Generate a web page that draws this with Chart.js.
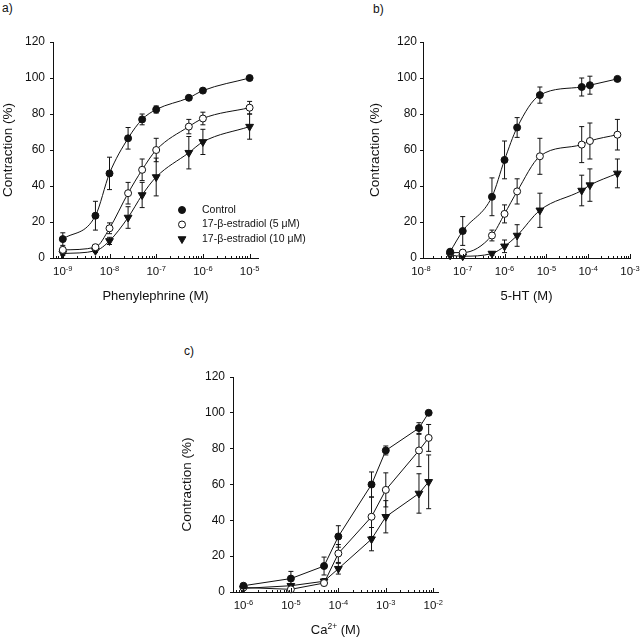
<!DOCTYPE html>
<html>
<head>
<meta charset="utf-8">
<title>Contraction curves</title>
<script src="https://cdn.jsdelivr.net/npm/chart.js@4.4.1/dist/chart.umd.min.js"></script>
<style>
  body { margin: 0; background: #fff; }
  #page { position: relative; width: 640px; height: 637px; font-family: 'Liberation Sans', Arial, sans-serif; }
  canvas { position: absolute; }
  .tag { position: absolute; font-size: 12px; color: #111; }
</style>
</head>
<body>
<div id="page">
  <div class="tag" style="left:2px;top:1px">a)</div>
  <div class="tag" style="left:373px;top:2px">b)</div>
  <div class="tag" style="left:184px;top:344px">c)</div>
  <canvas id="chart-a" width="320" height="310" style="left:0;top:0"></canvas>
  <canvas id="chart-b" width="320" height="310" style="left:320px;top:0"></canvas>
  <canvas id="chart-c" width="320" height="327" style="left:160px;top:310px"></canvas>
</div>
<script>
/*global Chart */
// a) phenylephrine
const phenConc = [1e-9, 5e-9, 1e-8, 2.5e-8, 5e-8, 1e-7, 5e-7, 1e-6, 1e-5]
const phenControl = [10.5, 23.5, 47, 66.5, 77, 82.5, 89, 93, 100]
const phenControlErr = [3.5, 8, 9, 6, 3, 2, 1, 1, 0]
const phenE5 = [4.5, 6, 16.5, 36, 49, 60, 73, 77.5, 83.5]
const phenE5Err = [1.5, 1.5, 3, 6, 6, 6.5, 4, 3.5, 3.5]
const phenE10 = [2.5, 4, 9.5, 22.5, 35, 45, 58.5, 64.5, 73]
const phenE10Err = [1, 1, 2, 6, 7, 10.5, 9, 7, 7]

// b) 5-HT
const htConc = [5e-8, 1e-7, 5e-7, 1e-6, 2e-6, 7e-6, 7e-5, 1.1e-4, 5e-4]
const htControl = [3.5, 15, 34, 54.5, 72.5, 90.5, 95, 96, 99.5]
const htControlErr = [1, 8, 10.5, 10.5, 5.5, 4.5, 5, 5, 0]
const htE5 = [3, 3, 12.5, 24.5, 37, 56.5, 63, 65, 68.5]
const htE5Err = [1, 1.5, 3, 5, 7, 10, 10, 10, 8.5]
const htE10 = [1.5, 1, 2.5, 6.5, 12.5, 26.5, 37.5, 40.5, 47]
const htE10Err = [0.5, 0.5, 1, 3.5, 6, 9.5, 8.5, 9, 8]

// c) Ca2+
const caConc = [1e-6, 1e-5, 5e-5, 1e-4, 5e-4, 1e-3, 5e-3, 8e-3]
const caControl = [3.5, 7.5, 14.5, 31, 60, 79, 91.5, 100]
const caControlErr = [1, 4, 5, 6, 7, 2.5, 3, 0]
const caE5 = [2.5, 1.5, 5, 21.5, 42, 57, 79, 86]
const caE5Err = [0.5, 0.5, 1.5, 5, 11, 9.5, 9, 7.5]
const caE10 = [2, 3.5, 6, 13, 29.5, 42, 55, 61.5]
const caE10Err = [0.5, 0.5, 1.5, 3, 6.5, 9, 11, 15]

const seriesLabels = ['Control', '17-β-estradiol (5 μM)', '17-β-estradiol (10 μM)']
const yTicks = [0, 20, 40, 60, 80, 100, 120]

const ink = '#111'
const family = "'Liberation Sans', Arial, sans-serif"

Chart.defaults.font.family = family
Chart.defaults.font.size = 12
Chart.defaults.color = ink

const markerStyles = [
  { pointStyle: 'circle', pointRadius: 3.5, pointBackgroundColor: ink, pointBorderColor: ink },
  { pointStyle: 'circle', pointRadius: 3.5, pointBackgroundColor: '#fff', pointBorderColor: ink },
  { pointStyle: 'triangle', pointRadius: 4.5, pointRotation: 180, pointBackgroundColor: ink, pointBorderColor: ink },
]

const series = (index, conc, values, errors, smooth) => ({
  label: seriesLabels[index],
  data: conc.map((x, i) => ({ x, y: values[i] })),
  errors,
  showLine: true,
  clip: false,
  borderColor: ink,
  borderWidth: 1,
  pointBorderWidth: 1,
  cubicInterpolationMode: smooth ? 'monotone' : 'default',
  tension: 0,
  ...markerStyles[index]
})

// normal / superscript pieces centred on cx, e.g. "10" + "-9"
const drawParts = (ctx, parts, cx, baseline, size, supSize, rise) => {
  const fonts = parts.map(([, sup]) => `${sup ? supSize : size}px ${family}`)
  const widths = parts.map(([text], i) => { ctx.font = fonts[i]; return ctx.measureText(text).width })
  let x = cx - widths.reduce((a, b) => a + b, 0) / 2
  parts.forEach(([text, sup], i) => {
    ctx.font = fonts[i]
    ctx.fillText(text, x, sup ? baseline - rise : baseline)
    x += widths[i]
  })
}

const decor = cfg => ({
  id: 'decor',
  beforeDatasetsDraw (chart) {
    const { ctx } = chart
    const y = chart.scales.y
    ctx.save()
    ctx.strokeStyle = ink
    ctx.lineWidth = 1
    chart.data.datasets.forEach((ds, i) => {
      chart.getDatasetMeta(i).data.forEach((pt, j) => {
        const err = ds.errors[j]
        if (!err) return
        const top = y.getPixelForValue(ds.data[j].y + err)
        const bottom = y.getPixelForValue(ds.data[j].y - err)
        ctx.beginPath()
        ctx.moveTo(pt.x, top); ctx.lineTo(pt.x, bottom)
        ctx.moveTo(pt.x - 2.5, top); ctx.lineTo(pt.x + 2.5, top)
        ctx.moveTo(pt.x - 2.5, bottom); ctx.lineTo(pt.x + 2.5, bottom)
        ctx.stroke()
      })
    })
    ctx.restore()
  },
  afterDraw (chart) {
    const { ctx, chartArea } = chart
    const x = chart.scales.x
    const axisY = chartArea.bottom
    ctx.save()
    ctx.strokeStyle = ink
    ctx.fillStyle = ink
    ctx.lineWidth = 1
    // minor and decade tick marks
    ctx.beginPath()
    for (let n = Math.floor(cfg.xRange[0]); n <= Math.ceil(cfg.xRange[1]); n++) {
      for (let k = 1; k <= 9; k++) {
        const v = k * Math.pow(10, n)
        if (v < x.min || v > x.max) continue
        const px = Math.round(x.getPixelForValue(v)) + 0.5
        ctx.moveTo(px, axisY)
        ctx.lineTo(px, axisY - (k === 1 ? 4 : 2))
      }
    }
    ctx.stroke()
    ctx.textBaseline = 'alphabetic'
    cfg.xDecades.forEach(n => {
      drawParts(ctx, [['10', false], [String(n), true]], x.getPixelForValue(Math.pow(10, n)), axisY + 17, 11.5, 7.5, 4.5)
    })
    drawParts(ctx, cfg.xTitle, (chartArea.left + chartArea.right) / 2, axisY + 42, 13, 8.5, 5)
    if (cfg.legend) {
      const [lx, ly, tx, gap] = cfg.legend
      chart.data.datasets.forEach((ds, i) => {
        const yy = ly + i * gap
        ctx.fillStyle = ds.pointBackgroundColor
        ctx.strokeStyle = ink
        Chart.helpers.drawPoint(ctx, { pointStyle: ds.pointStyle, rotation: ds.pointRotation || 0, radius: ds.pointRadius, borderWidth: 1 }, lx, yy)
        ctx.fillStyle = ink
        ctx.font = `10.5px ${family}`
        ctx.textBaseline = 'middle'
        ctx.fillText(ds.label, tx, yy)
      })
    }
    ctx.restore()
  }
})

const buildChart = (id, cfg) => new Chart(document.getElementById(id), {
  type: 'scatter',
  data: { datasets: cfg.datasets },
  options: {
    responsive: false,
    animation: false,
    events: [],
    layout: { padding: cfg.padding },
    plugins: { legend: { display: false }, tooltip: { enabled: false } },
    scales: {
      x: {
        type: 'logarithmic',
        bounds: 'data',
        min: Math.pow(10, cfg.xRange[0]),
        max: Math.pow(10, cfg.xRange[1]),
        ticks: { display: false },
        grid: { display: false },
        border: { color: ink, width: 1 },
        afterFit: scale => { scale.height = 0 }
      },
      y: {
        min: 0,
        max: 120,
        afterBuildTicks: scale => { scale.ticks = yTicks.map(value => ({ value })) },
        ticks: { padding: cfg.yLabelGap, color: ink },
        grid: { drawOnChartArea: false, tickLength: 3, tickColor: ink },
        border: { color: ink, width: 1 },
        title: { display: true, text: 'Contraction (%)', padding: { top: 0, bottom: 0 }, color: ink, font: { size: 13.5 } },
        afterFit: scale => { scale.width = cfg.yWidth }
      }
    }
  },
  plugins: [decor(cfg)]
})

buildChart('chart-a', {
  datasets: [
    series(0, phenConc, phenControl, phenControlErr, true),
    series(1, phenConc, phenE5, phenE5Err, true),
    series(2, phenConc, phenE10, phenE10Err, true),
  ],
  xRange: [-9.21, -4.82],
  xDecades: [-9, -8, -7, -6, -5],
  xTitle: [['Phenylephrine (M)', false]],
  padding: { left: 0, top: 42, right: 62, bottom: 52 },
  yWidth: 53,
  yLabelGap: 5,
  legend: [182, 210, 202, 14.5],
})

buildChart('chart-b', {
  datasets: [
    series(0, htConc, htControl, htControlErr, true),
    series(1, htConc, htE5, htE5Err, true),
    series(2, htConc, htE10, htE10Err, true),
  ],
  xRange: [-7.95, -3],
  xDecades: [-8, -7, -6, -5, -4, -3],
  xTitle: [['5-HT (M)', false]],
  padding: { left: 47, top: 42, right: 10, bottom: 52 },
  yWidth: 56,
  yLabelGap: 3,
})

buildChart('chart-c', {
  datasets: [
    series(0, caConc, caControl, caControlErr, false),
    series(1, caConc, caE5, caE5Err, false),
    series(2, caConc, caE10, caE10Err, false),
  ],
  xRange: [-6.22, -1.9],
  xDecades: [-6, -5, -4, -3, -2],
  xTitle: [['Ca', false], ['2+', true], [' (M)', false]],
  padding: { left: 19, top: 67, right: 42, bottom: 45 },
  yWidth: 54,
  yLabelGap: 5,
})
</script>
</body>
</html>
